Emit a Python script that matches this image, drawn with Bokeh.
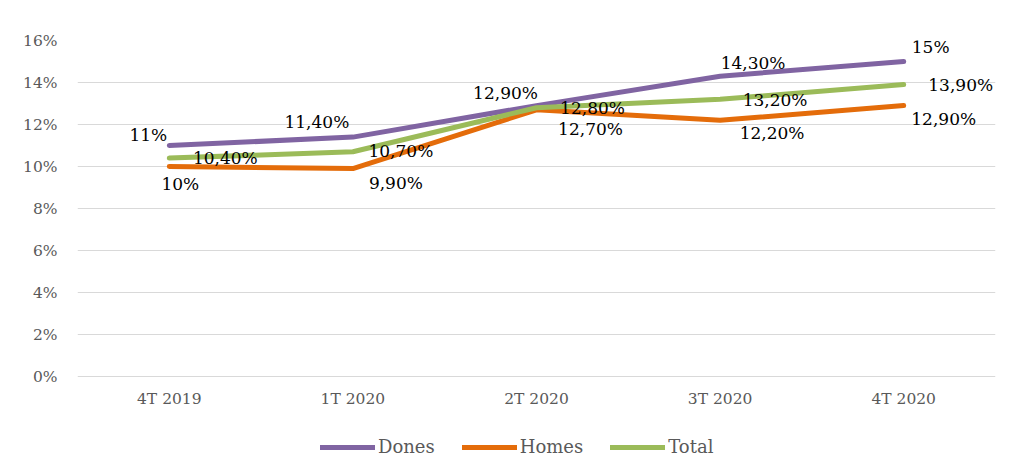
from bokeh.plotting import figure
from bokeh.models import ColumnDataSource, Legend, LegendItem, FixedTicker, CustomJSTickFormatter, Range1d
from bokeh.core.properties import value
from bokeh.embed import file_html
from bokeh.resources import INLINE

categories = ["4T 2019", "1T 2020", "2T 2020", "3T 2020", "4T 2020"]
dones = [11.0, 11.4, 12.9, 14.3, 15.0]
homes = [10.0, 9.9, 12.7, 12.2, 12.9]
total = [10.4, 10.7, 12.8, 13.2, 13.9]
y_ticks = [0, 2, 4, 6, 8, 10, 12, 14, 16]

# label offsets (screen px) mimicking Excel auto placement
dones_dx = [-21, -36, -31, 33, 27]
dones_dy = [-11, -15, -13, -13, -15]
homes_dx = [11, 43, 54, 52, 40]
homes_dy = [17, 14, 19, 13, 13]
total_dx = [56, 48, 56, 55, 57]
total_dy = [0, -1, 0, 1, 0]

FONT = "DejaVu Serif"

def fmt(v):
    s = ("%.2f" % v).rstrip("0").rstrip(".") if abs(v - round(v)) < 1e-9 else "%.2f" % v
    return s.replace(".", ",") + "%"

FRAME_H = 430
PX_PER_UNIT = 21.0
p = figure(x_range=categories, y_range=Range1d(16 - FRAME_H / PX_PER_UNIT, 16),
           frame_width=918, frame_height=FRAME_H, x_axis_location="above",
           output_backend="svg", toolbar_location=None,
           min_border_left=77, min_border_right=8, min_border_top=40, min_border_bottom=0)
p.outline_line_color = None
p.background_fill_color = "white"
p.border_fill_color = "white"

p.xgrid.grid_line_color = None
p.ygrid.grid_line_color = "#d9d9d9"
p.ygrid.grid_line_width = 1
p.yaxis.ticker = FixedTicker(ticks=y_ticks)
p.yaxis.formatter = CustomJSTickFormatter(code="return tick + '%';")
for ax in (p.xaxis[0], p.yaxis[0]):
    ax.axis_line_color = None
    ax.major_tick_line_color = None
    ax.minor_tick_line_color = None
    ax.major_tick_out = 0
    ax.major_tick_in = 0
    ax.major_label_text_font = FONT
    ax.major_label_text_font_size = "15.5px"
    ax.major_label_text_color = "#595959"
p.xaxis.fixed_location = 0
p.xaxis.major_label_standoff = -31
p.yaxis.major_label_standoff = 20

series = [("Dones", dones, "#8064A2", dones_dx, dones_dy),
          ("Homes", homes, "#E46C0A", homes_dx, homes_dy),
          ("Total", total, "#9BBB59", total_dx, total_dy)]

renderers = []
for name, vals, color, dx, dy in series:
    src = ColumnDataSource(dict(x=categories, y=vals))
    r = p.line("x", "y", source=src, line_color=color, line_width=5, line_join="round", line_cap="round")
    renderers.append((name, r))

for name, vals, color, dx, dy in series:
    src = ColumnDataSource(dict(x=categories, y=vals, lab=[fmt(v) for v in vals], dx=dx, dy=dy))
    p.text("x", "y", text="lab", source=src, x_offset="dx", y_offset="dy",
           text_align="center", text_baseline="middle",
           text_font=value(FONT), text_font_size="17px", text_color="black")

legend = Legend(items=[LegendItem(label=n, renderers=[r]) for n, r in renderers],
                orientation="horizontal", location=(243, 13),
                label_text_font=FONT, label_text_font_size="18px", label_text_color="#595959",
                glyph_width=55, glyph_height=20, spacing=27, label_standoff=3,
                border_line_color=None, background_fill_alpha=0, margin=0, padding=3)
p.add_layout(legend)

open("out.html", "w").write(file_html(p, INLINE))
